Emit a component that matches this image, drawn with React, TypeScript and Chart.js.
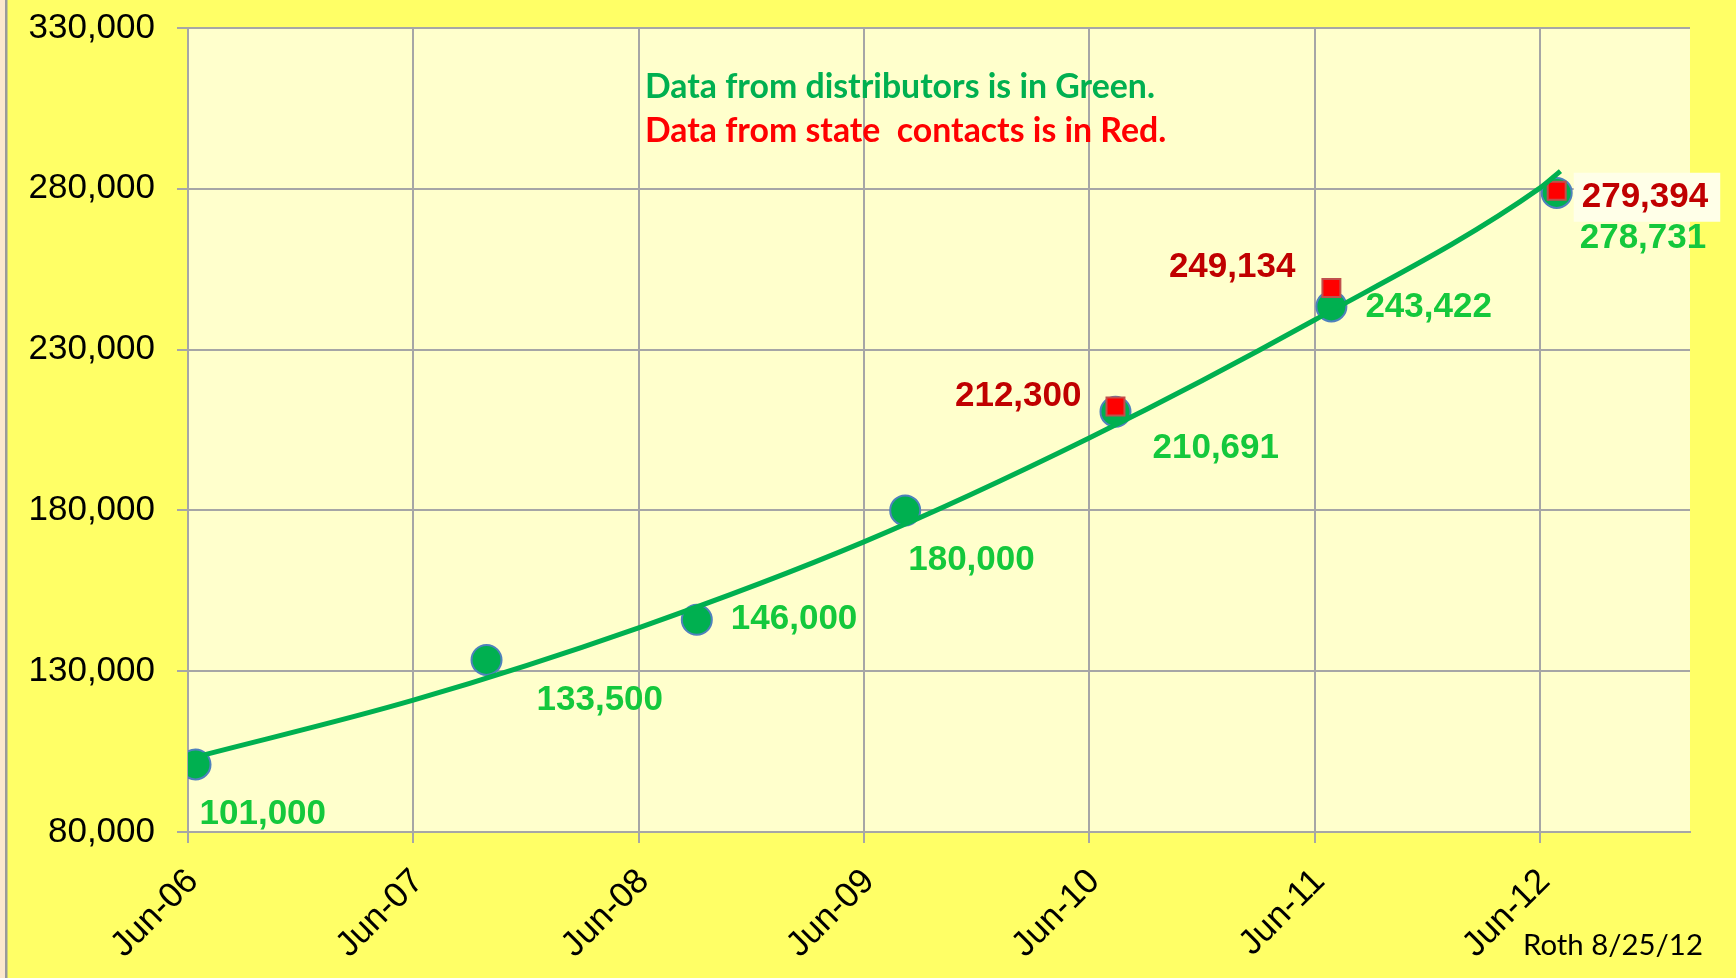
import React, { useEffect, useRef } from "react";
import { Chart, registerables } from "chart.js";

Chart.register(...registerables);

// ---- data ----
const tickMonths = [0, 12, 24, 36, 48, 60, 72];
const tickLabels = ["Jun-06", "Jun-07", "Jun-08", "Jun-09", "Jun-10", "Jun-11", "Jun-12"];

const distMonths = [0.4, 15.9, 27.1, 38.2, 49.4, 60.9, 72.9];
const distValues = [101000, 133500, 146000, 180000, 210691, 243422, 278731];

const stateMonths = [49.4, 60.9, 72.9];
const stateValues = [212300, 249134, 279394];

const trendMonths = [0.4, 12, 24, 36, 48, 60, 72, 73.1];
const trendValues = [103300, 121000, 143500, 170200, 202500, 239200, 280200, 285500];

const noteLines = ["Data from distributors is in Green.", "Data from state  contacts is in Red."];
const credit = "Roth 8/25/12";

// label placement relative to the point (px)
const distLabelOffsets: [number, number][] = [
  [4, 50], [50, 40], [34, 0], [3, 50], [37, 37], [34, 1], [23, 45],
];
const stateLabelOffsets: [number, number, CanvasTextAlign][] = [
  [-34, -10.5, "right"], [-36, -20.5, "right"], [25, 7, "left"],
];

const fmt = (v: number) => Number(v).toLocaleString("en-US");

function fitFont(ctx: CanvasRenderingContext2D, text: string, weight: string, family: string, targetW: number) {
  ctx.font = `${weight} 100px ${family}`;
  const w = ctx.measureText(text).width;
  return (100 * targetW) / w;
}

const bgPlugin = {
  id: "bgPlugin",
  beforeDraw(chart: any) {
    const { ctx, width, height, chartArea: a } = chart;
    ctx.save();
    ctx.fillStyle = "#FFFF66";
    ctx.fillRect(0, 0, width, height);
    ctx.fillStyle = "#FCE8CC";
    ctx.fillRect(0, 0, 5, height);
    ctx.fillStyle = "#9A9A9A";
    ctx.fillRect(5, 0, 2.5, height);
    ctx.fillStyle = "#FFFFCC";
    ctx.fillRect(a.left, a.top, a.right - a.left, a.bottom - a.top);
    ctx.restore();
  },
};

const labelPlugin = {
  id: "labelPlugin",
  afterDatasetsDraw(chart: any) {
    const { ctx } = chart;
    ctx.save();
    ctx.textBaseline = "middle";
    ctx.font = 'bold 35px "Liberation Sans", Arial, sans-serif';

    // distributor labels (green)
    const gMeta = chart.getDatasetMeta(2);
    gMeta.data.forEach((pt: any, i: number) => {
      const [dx, dy] = distLabelOffsets[i];
      ctx.textAlign = "left";
      ctx.fillStyle = "#14C83C";
      ctx.fillText(fmt(distValues[i]), pt.x + dx, pt.y + dy);
    });

    // state labels (red)
    const rMeta = chart.getDatasetMeta(1);
    rMeta.data.forEach((pt: any, i: number) => {
      const [dx, dy, align] = stateLabelOffsets[i];
      const txt = fmt(stateValues[i]);
      const tx = pt.x + dx;
      const ty = pt.y + dy;
      if (i === stateLabelOffsets.length - 1) {
        const w = ctx.measureText(txt).width;
        ctx.fillStyle = "#FFFFE8";
        ctx.fillRect(tx - 8, ty - 25, w + 20, 49);
      }
      ctx.textAlign = align;
      ctx.fillStyle = "#C00000";
      ctx.fillText(txt, tx, ty);
    });

    // note text
    const fam = 'Lato, "Open Sans", sans-serif';
    const fs = fitFont(ctx, noteLines[0], "bold", fam, 510);
    ctx.font = `bold ${fs}px ${fam}`;
    ctx.textAlign = "left";
    ctx.textBaseline = "alphabetic";
    ctx.fillStyle = "#00B050";
    ctx.fillText(noteLines[0], 645, 98);
    ctx.fillStyle = "#FF0000";
    ctx.fillText(noteLines[1], 645, 142);

    // credit
    const fs2 = fitFont(ctx, credit, "normal", fam, 180);
    ctx.font = `normal ${fs2}px ${fam}`;
    ctx.fillStyle = "#000000";
    ctx.fillText(credit, 1523, 955);
    ctx.restore();
  },
};

export default function App() {
  const ref = useRef<HTMLCanvasElement | null>(null);

  useEffect(() => {
    if (!ref.current) return;
    const gridColor = "#A6A6A6";
    const chart = new Chart(ref.current, {
      type: "scatter",
      data: {
        datasets: [
          {
            label: "Trend",
            data: trendMonths.map((x, i) => ({ x, y: trendValues[i] })),
            showLine: true,
            borderColor: "#00B050",
            borderWidth: 5,
            pointRadius: 0,
            cubicInterpolationMode: "monotone",
          } as any,
          {
            label: "State contacts",
            data: stateMonths.map((x, i) => ({ x, y: stateValues[i] })),
            pointStyle: "rect",
            pointRadius: 12.7,
            backgroundColor: "#FF0000",
            borderColor: "#C0504D",
            borderWidth: 2,
          },
          {
            label: "Distributors",
            data: distMonths.map((x, i) => ({ x, y: distValues[i] })),
            pointStyle: "circle",
            pointRadius: 15,
            backgroundColor: "#00B050",
            borderColor: "#4F81BD",
            borderWidth: 2,
          },
        ],
      },
      options: {
        responsive: false,
        animation: false,
        events: [],
        layout: { padding: { left: 0, top: 28, right: 46, bottom: 0 } },
        plugins: { legend: { display: false }, tooltip: { enabled: false } },
        scales: {
          x: {
            type: "linear",
            min: 0,
            max: 80,
            afterBuildTicks: (scale: any) => {
              scale.ticks = tickMonths.map((v) => ({ value: v }));
            },
            afterFit: (scale: any) => {
              scale.height = 146;
              scale.paddingLeft = 0;
              scale.paddingRight = 0;
            },
            ticks: {
              autoSkip: false,
              maxRotation: 45,
              minRotation: 45,
              padding: 18,
              labelOffset: 5,
              color: "#000000",
              font: { family: '"Liberation Sans", Arial, sans-serif', size: 35 },
              callback: (v: any) => {
                const idx = tickMonths.indexOf(Number(v));
                return idx >= 0 ? tickLabels[idx] : "";
              },
            },
            grid: { color: gridColor, lineWidth: 2, tickLength: 11 },
            border: { color: gridColor, width: 2 },
          },
          y: {
            min: 80000,
            max: 330000,
            afterFit: (scale: any) => {
              scale.width = 188;
              scale.paddingTop = 0;
              scale.paddingBottom = 0;
            },
            ticks: {
              stepSize: 50000,
              padding: 22,
              color: "#000000",
              font: { family: '"Liberation Sans", Arial, sans-serif', size: 35 },
              callback: (v: any) => fmt(v),
            },
            grid: { color: gridColor, lineWidth: 2, tickLength: 11 },
            border: { color: gridColor, width: 2 },
          },
        },
      },
      plugins: [bgPlugin, labelPlugin],
    });
    return () => chart.destroy();
  }, []);

  return (
    <div style={{ position: "absolute", left: 0, top: 0, width: 1736, height: 978 }}>
      <canvas ref={ref} width={1736} height={978} style={{ display: "block" }} />
    </div>
  );
}
